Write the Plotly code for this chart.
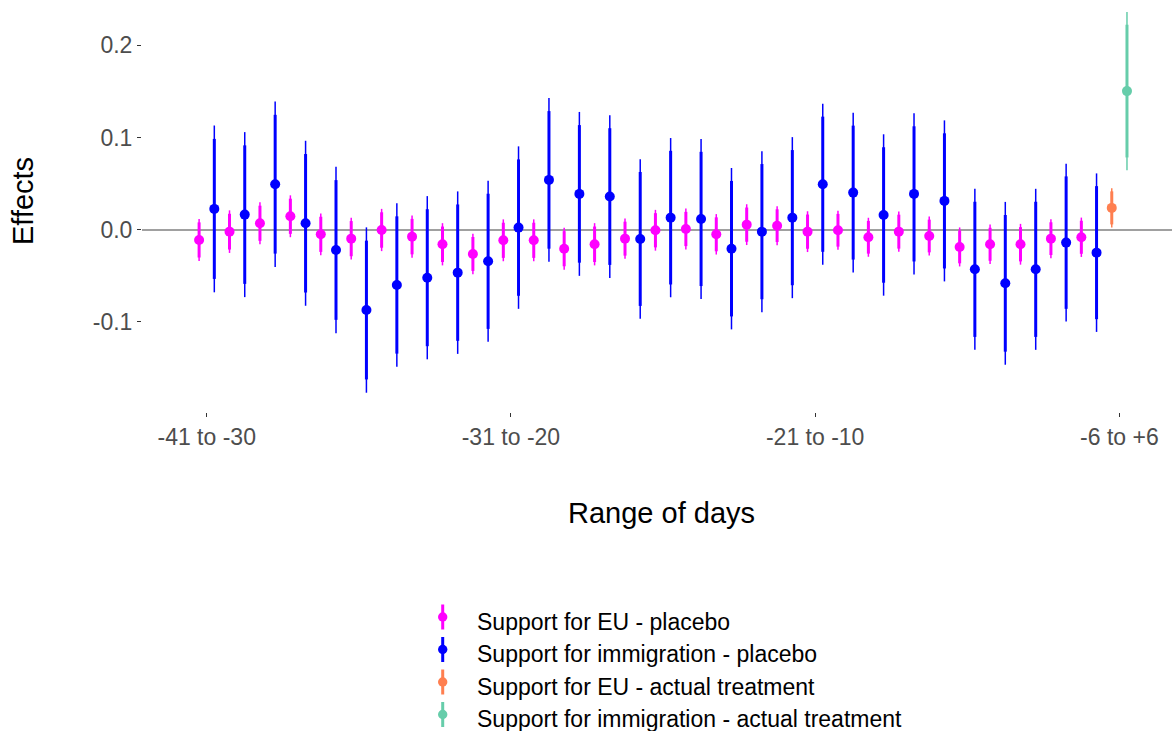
import plotly.graph_objects as go

# Day windows (placebo windows 1-30, actual treatment window last)
windows = [
    "-41 to -30", "-40 to -29", "-39 to -28", "-38 to -27", "-37 to -26",
    "-36 to -25", "-35 to -24", "-34 to -23", "-33 to -22", "-32 to -21",
    "-31 to -20", "-30 to -19", "-29 to -18", "-28 to -17", "-27 to -16",
    "-26 to -15", "-25 to -14", "-24 to -13", "-23 to -12", "-22 to -11",
    "-21 to -10", "-20 to -9", "-19 to -8", "-18 to -7", "-17 to -6",
    "-16 to -5", "-15 to -4", "-14 to -3", "-13 to -2", "-12 to -1",
    "-6 to +6",
]
placebo_windows = windows[:30]
actual_windows = windows[30:]
tick_labels = ["-41 to -30", "-31 to -20", "-21 to -10", "-6 to +6"]

# Support for EU - placebo: estimates and standard errors
eu_placebo_est = [-0.0112, -0.0022, 0.0069, 0.0145, -0.0051, -0.0098, -0.0004, -0.0076,
                  -0.0159, -0.0264, -0.0116, -0.0116, -0.0207, -0.0159, -0.0098, -0.0007,
                  0.0007, -0.0051, 0.0054, 0.0043, -0.0022, -0.0007, -0.0083, -0.0022,
                  -0.0069, -0.0188, -0.0159, -0.0159, -0.0098, -0.0083]
eu_placebo_se = [0.0116, 0.0118, 0.0116, 0.0116, 0.0116, 0.0116, 0.0117, 0.0117,
                 0.0117, 0.0112, 0.0116, 0.0116, 0.0116, 0.0117, 0.0112, 0.0113,
                 0.0113, 0.0112, 0.0113, 0.0108, 0.0113, 0.0108, 0.0108, 0.0112,
                 0.0108, 0.0108, 0.0109, 0.0113, 0.0108, 0.0109]

# Support for immigration - placebo
imm_placebo_est = [0.0225, 0.0163, 0.0493, 0.0069, -0.0221, -0.0873, -0.0601, -0.0522,
                   -0.0467, -0.0344, 0.0022, 0.0540, 0.0388, 0.0359, -0.0101, 0.0130,
                   0.0116, -0.0207, -0.0022, 0.0130, 0.0493, 0.0402, 0.0159, 0.0388,
                   0.0312, -0.0431, -0.0583, -0.0431, -0.0141, -0.0250]
imm_placebo_se = [0.0462, 0.0457, 0.0458, 0.0457, 0.0461, 0.0458, 0.0453, 0.0452,
                  0.0450, 0.0446, 0.0450, 0.0454, 0.0454, 0.0451, 0.0442, 0.0441,
                  0.0443, 0.0447, 0.0446, 0.0446, 0.0446, 0.0442, 0.0447, 0.0446,
                  0.0446, 0.0446, 0.0451, 0.0446, 0.0437, 0.0439]

# Actual treatment window
eu_actual_est = [0.0236]
eu_actual_se = [0.0109]
imm_actual_est = [0.1504]
imm_actual_se = [0.0438]

Z95 = 1.96
Z90 = 1.645
DODGE = 0.25

series = [
    ("Support for EU - placebo", placebo_windows, eu_placebo_est, eu_placebo_se, -DODGE, "#FF00FF"),
    ("Support for immigration - placebo", placebo_windows, imm_placebo_est, imm_placebo_se, DODGE, "#0000FF"),
    ("Support for EU - actual treatment", actual_windows, eu_actual_est, eu_actual_se, -DODGE, "#FF7F50"),
    ("Support for immigration - actual treatment", actual_windows, imm_actual_est, imm_actual_se, DODGE, "#66CDAA"),
]

FONT = "Liberation Sans, Arial, sans-serif"

fig = go.Figure()
for name, wins, est, se, off, color in series:
    xs = [windows.index(w) + 1 + off for w in wins]
    # 95% interval (thin)
    fig.add_trace(go.Scatter(
        x=xs, y=est, mode="markers", name=name, showlegend=False,
        marker=dict(size=2, color=color, opacity=0),
        error_y=dict(type="data", array=[Z95 * s for s in se], symmetric=True,
                     thickness=1.5, width=0, color=color),
        hoverinfo="skip",
    ))
    # 90% interval (thick) with point estimate
    fig.add_trace(go.Scatter(
        x=xs, y=est, mode="markers", name=name, showlegend=False,
        marker=dict(size=10, color=color, line=dict(width=0)),
        error_y=dict(type="data", array=[Z90 * s for s in se], symmetric=True,
                     thickness=3, width=0, color=color),
    ))

W, H = 1172, 731
ML, MB = 142, 319
PW, PH = W - ML, H - MB


def px(x):
    return (x - ML) / PW


def py(y):
    return (PH - y) / PH


# Legend drawn beneath the plot
legend_rows = [617, 649.5, 682, 714.5]
shapes = []
annotations = []
for (name, _, _, _, _, color), ry in zip(series, legend_rows):
    kx = 442.7
    shapes.append(dict(type="line", xref="paper", yref="paper",
                       x0=px(kx), x1=px(kx), y0=py(ry - 12.5), y1=py(ry + 12.5),
                       line=dict(color=color, width=3)))
    shapes.append(dict(type="circle", xref="paper", yref="paper",
                       x0=px(kx - 4.7), x1=px(kx + 4.7), y0=py(ry - 4.7), y1=py(ry + 4.7),
                       fillcolor=color, line=dict(width=0)))
    annotations.append(dict(text=name, xref="paper", yref="paper", x=px(475), y=py(ry + 4.5),
                            xanchor="left", yanchor="middle", showarrow=False,
                            font=dict(family=FONT, size=23, color="#000000")))

annotations.append(dict(text="Range of days", xref="paper", yref="paper",
                        x=px(661.7), y=py(513), xanchor="center", yanchor="middle",
                        showarrow=False, font=dict(family=FONT, size=29, color="#000000")))
annotations.append(dict(text="Effects", xref="paper", yref="paper",
                        x=px(23), y=py(201), xanchor="center", yanchor="middle",
                        textangle=-90, showarrow=False,
                        font=dict(family=FONT, size=29, color="#000000")))

tick_pos = [windows.index(t) + 1 for t in tick_labels]

fig.update_layout(
    width=W, height=H,
    margin=dict(l=ML, r=0, t=0, b=MB, pad=0),
    paper_bgcolor="white", plot_bgcolor="white",
    font=dict(family=FONT),
    xaxis=dict(range=[-1.127, 32.73], tickvals=tick_pos, ticktext=tick_labels,
               showgrid=False, zeroline=False, showline=False,
               ticks="outside", ticklen=4, tickwidth=1, tickcolor="#333333",
               tickfont=dict(family=FONT, size=23, color="#4D4D4D")),
    yaxis=dict(range=[-0.198, 0.2493], tickvals=[-0.1, 0.0, 0.1, 0.2],
               ticktext=["-0.1", "0.0", "0.1", "0.2"],
               showgrid=False, zeroline=True, zerolinecolor="#A0A0A0", zerolinewidth=1.5,
               showline=False, ticks="outside", ticklen=4, tickwidth=1, tickcolor="#333333",
               tickfont=dict(family=FONT, size=23, color="#4D4D4D")),
    shapes=shapes,
    annotations=annotations,
)

fig.write_html("out.html")
